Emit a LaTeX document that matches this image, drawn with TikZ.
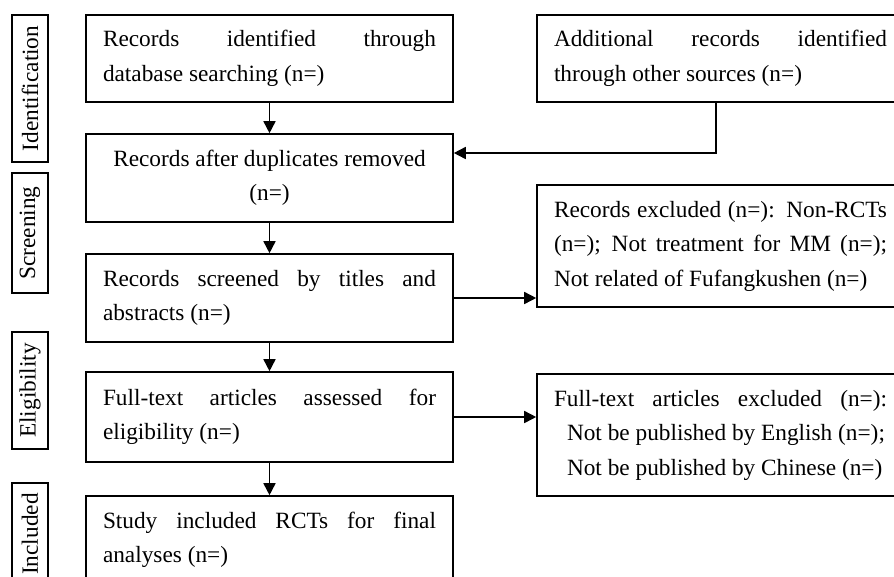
\documentclass[tikz,border=0pt]{standalone}
\usepackage{fontspec}
\setmainfont{Liberation Serif}
\usetikzlibrary{arrows.meta}
\newcommand{\jl}[1]{\makebox[333pt][s]{\spaceskip=0.25em plus 1fil\relax #1}}
\newcommand{\lline}[2][0pt]{\makebox[333pt][l]{\spaceskip=0pt\xspaceskip=0pt\relax\hspace*{#1}#2}}
\newcommand{\ctrline}[1]{\makebox[333pt][c]{\spaceskip=0pt\xspaceskip=0pt\relax #1}}
\begin{document}
\begin{tikzpicture}[x=1pt,y=-1pt,
  box/.style={draw, line width=1.6pt, minimum width=367pt, text width=333pt, inner xsep=17pt, inner ysep=0pt, align=left, font=\fontsize{23.3}{34.5}\selectfont},
  lab/.style={draw, line width=1.6pt, rotate=90, minimum height=36pt, inner sep=0pt, font=\fontsize{23.3}{28}\selectfont},
  arr/.style={line width=1.6pt, -{Triangle[length=12pt,width=12pt]}}]
\useasboundingbox (0,0) rectangle (894,576);
\clip (0,0) rectangle (894,576);
\fill[white] (0,0) rectangle (894,576);

\node[box, minimum height=87pt] (db) at (269.5,58.5) {\jl{Records identified through}\\\lline{database searching (n=)}};
\node[box, minimum height=87pt] (add) at (720.5,58.5) {\jl{Additional records identified}\\\lline{through other sources (n=)}};
\node[box, minimum height=88pt] (dup) at (269.5,178) {\ctrline{Records after duplicates removed}\\\ctrline{(n=)}};
\node[box, minimum height=88pt] (scr) at (269.5,298) {\jl{Records screened by titles and}\\\lline{abstracts (n=)}};
\node[box, minimum height=122pt] (ex1) at (720.5,246) {\jl{Records excluded (n=): Non-RCTs}\\\jl{(n=); Not treatment for MM (n=);}\\\lline{Not related of Fufangkushen (n=)}};
\node[box, minimum height=90pt] (ft) at (269.5,417) {\jl{Full-text articles assessed for}\\\lline{eligibility (n=)}};
\node[box, minimum height=122pt] (ex2) at (720.5,435) {\jl{Full-text articles excluded (n=):}\\\lline[13pt]{Not be published by English (n=);}\\\lline[13pt]{Not be published by Chinese (n=)}};
\node[box, minimum height=88pt] (inc) at (269.5,540) {\jl{Study included RCTs for final}\\\lline{analyses (n=)}};

\node[lab, minimum width=147pt] (l1) at (30,88.5) {Identification};
\node[lab, minimum width=120pt] (l2) at (30,233) {Screening};
\node[lab, minimum width=117pt] (l3) at (30,390.5) {Eligibility};
\node[lab, minimum width=102pt] (l4) at (30,534) {Included};

\draw[arr] (db) -- (dup);
\draw[arr] (dup) -- (scr);
\draw[arr] (scr) -- (ft);
\draw[arr] (ft) -- (inc);
\draw[arr] ([xshift=-4.5pt]add.south) |- ([yshift=25pt]dup.east);
\draw[arr] (scr.east) -- (scr.east -| ex1.west);
\draw[arr] (ft.east) -- (ft.east -| ex2.west);
\end{tikzpicture}
\end{document}
